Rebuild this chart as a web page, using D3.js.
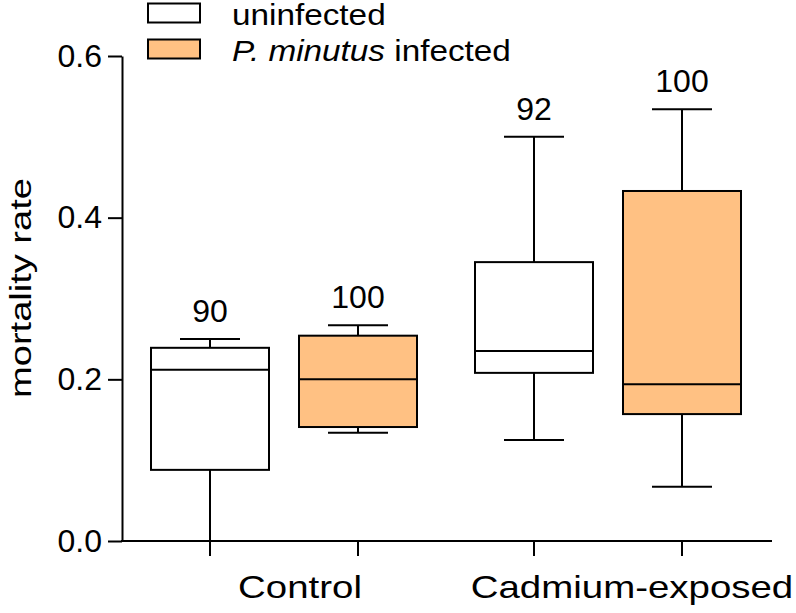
<!DOCTYPE html>
<html>
<head>
<meta charset="utf-8">
<script src="https://cdn.jsdelivr.net/npm/d3@7"></script>
<style>
  body { margin: 0; background: #fff; }
  text { font-family: "Liberation Sans", Arial, sans-serif; fill: #000; }
</style>
</head>
<body>
<svg id="chart" width="796" height="613"></svg>
<script>
// groups on the x axis, and the two series within each group
var groups = ["Control", "Cadmium-exposed"];
var series = ["uninfected", "infected"];
var seriesLabels = ["uninfected", "P. minutus infected"];
var yTicks = [0, 0.2, 0.4, 0.6];

// box stats per group (low whisker, Q1, median, Q3, high whisker), in group order
var uninfectedStats = [
  [0.000, 0.088, 0.212, 0.239, 0.250],
  [0.125, 0.208, 0.235, 0.345, 0.500]
];
var infectedStats = [
  [0.134, 0.141, 0.200, 0.254, 0.267],
  [0.067, 0.157, 0.194, 0.433, 0.534]
];
// numbers printed above each box
var uninfectedN = [90, 92];
var infectedN = [100, 100];

var fills = { uninfected: "#ffffff", infected: "#ffc183" };

var svg = d3.select("#chart");
var m = { left: 122, right: 24, top: 56, bottom: 72 };
var W = 796, H = 613;

var y = d3.scaleLinear().domain([0, 0.6]).range([H - m.bottom, m.top]);
var xg = d3.scalePoint().domain(groups).range([m.left, 770]).padding(0.5);
var xs = d3.scalePoint().domain(series).range([-74, 74]);
var boxW = 118;

// the original text is drawn wide, so stretch it sideways
var wide = function(x, yy, sx){ return "translate(" + x + "," + yy + ") scale(" + sx + ",1)"; };

// flatten into one row per box
var boxes = [];
groups.forEach(function(g, i){
  boxes.push({ g: g, s: "uninfected", v: uninfectedStats[i], n: uninfectedN[i] });
  boxes.push({ g: g, s: "infected", v: infectedStats[i], n: infectedN[i] });
});
var cx = function(d){ return xg(d.g) + xs(d.s); };

// y axis
var yAxis = svg.append("g")
  .attr("transform", "translate(" + m.left + ",0)")
  .call(d3.axisLeft(y).tickValues(yTicks).tickFormat(d3.format(".1f")).tickSize(14).tickSizeOuter(0).tickPadding(6));
yAxis.selectAll("path, line").attr("stroke", "#000").attr("stroke-width", 2);
yAxis.selectAll("text").style("font-size", "32px").style("font-family", "Liberation Sans, Arial, sans-serif");

svg.append("text")
  .attr("transform", "translate(31,288) rotate(-90) scale(1.29,1)")
  .attr("text-anchor", "middle")
  .style("font-size", "29.5px")
  .text("mortality rate");

// x axis
var xa = svg.append("g");
xa.append("line")
  .attr("x1", m.left - 1).attr("x2", 772)
  .attr("y1", y(0)).attr("y2", y(0))
  .attr("stroke", "#000").attr("stroke-width", 2);
xa.selectAll(".tk").data(boxes).enter().append("line")
  .attr("x1", cx).attr("x2", cx)
  .attr("y1", y(0)).attr("y2", y(0) + 15)
  .attr("stroke", "#000").attr("stroke-width", 2);
xa.selectAll(".lbl").data(groups).enter().append("text")
  .attr("transform", function(d, i){ return wide(xg(d) + 16 + 8 * i, y(0) + 57, 1.26); })
  .attr("text-anchor", "middle")
  .style("font-size", "30.5px")
  .text(function(d){ return d; });

// boxes
var bx = svg.selectAll(".box").data(boxes).enter().append("g");
bx.append("line") // whisker
  .attr("x1", cx).attr("x2", cx)
  .attr("y1", function(d){ return y(d.v[0]); })
  .attr("y2", function(d){ return y(d.v[4]); })
  .attr("stroke", "#000").attr("stroke-width", 2);
bx.selectAll(".cap").data(function(d){ return [[d, d.v[0]], [d, d.v[4]]]; }).enter().append("line")
  .attr("x1", function(p){ return cx(p[0]) - 30; })
  .attr("x2", function(p){ return cx(p[0]) + 30; })
  .attr("y1", function(p){ return y(p[1]); })
  .attr("y2", function(p){ return y(p[1]); })
  .attr("stroke", "#000").attr("stroke-width", 2);
bx.append("rect")
  .attr("x", function(d){ return cx(d) - boxW / 2; })
  .attr("width", boxW)
  .attr("y", function(d){ return y(d.v[3]); })
  .attr("height", function(d){ return y(d.v[1]) - y(d.v[3]); })
  .attr("fill", function(d){ return fills[d.s]; })
  .attr("stroke", "#000").attr("stroke-width", 2);
bx.append("line") // median
  .attr("x1", function(d){ return cx(d) - boxW / 2; })
  .attr("x2", function(d){ return cx(d) + boxW / 2; })
  .attr("y1", function(d){ return y(d.v[2]); })
  .attr("y2", function(d){ return y(d.v[2]); })
  .attr("stroke", "#000").attr("stroke-width", 2);
bx.append("text")
  .attr("x", cx)
  .attr("y", function(d){ return y(d.v[4]) - 17; })
  .attr("text-anchor", "middle")
  .style("font-size", "32px")
  .text(function(d){ return d.n; });

// legend
var lg = svg.append("g");
var lgRow = d3.scalePoint().domain(series).range([13, 49]);
series.forEach(function(s){
  lg.append("rect")
    .attr("x", 148).attr("y", lgRow(s) - 9.5)
    .attr("width", 52).attr("height", 19)
    .attr("fill", fills[s]).attr("stroke", "#000").attr("stroke-width", 2);
});
lg.append("text").attr("transform", wide(232, lgRow("uninfected") + 12, 1.11))
  .style("font-size", "30px").text(seriesLabels[0]);
var t2 = lg.append("text").attr("transform", wide(232, lgRow("infected") + 12, 1.11))
  .style("font-size", "30px");
t2.append("tspan").style("font-style", "italic").text(seriesLabels[1].split(" ").slice(0, 2).join(" "));
t2.append("tspan").text(" " + seriesLabels[1].split(" ").slice(2).join(" "));
</script>
</body>
</html>
